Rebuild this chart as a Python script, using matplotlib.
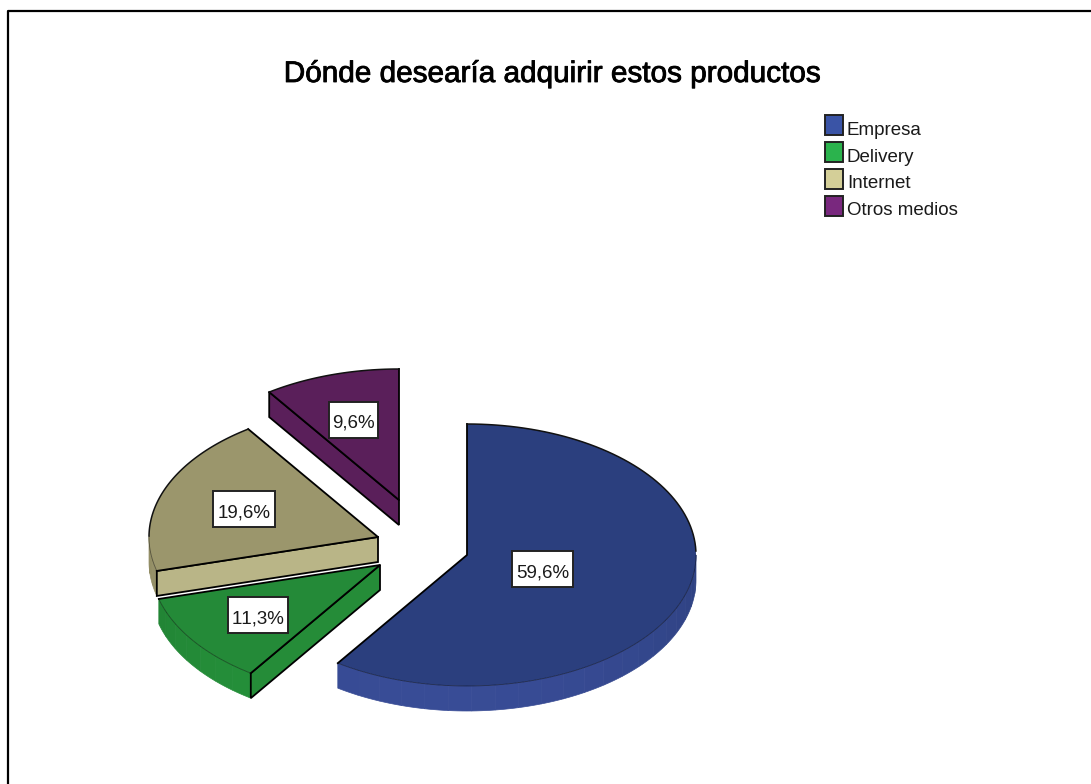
import numpy as np
import matplotlib
matplotlib.use("Agg")
import matplotlib.pyplot as plt
import matplotlib.patheffects as pe
from matplotlib.patches import Polygon, Rectangle

# Porcentajes de cada medio
categories = ["Empresa", "Delivery", "Internet", "Otros medios"]
percents = [59.6, 11.3, 19.6, 9.6]
percent_labels = ["59,6%", "11,3%", "19,6%", "9,6%"]

top_colors = ["#2b3f7e", "#248a38", "#9b966c", "#5a1f5a"]
cut_colors = ["#2b3f7e", "#258c38", "#b9b587", "#5a1f5a"]
rim_dark = ["#2f4283", "#1f7a31", "#8d8861", "#5a1f5a"]
rim_light = ["#384c96", "#25913a", "#a39e72", "#5a1f5a"]
legend_colors = ["#3a54a6", "#2bb34d", "#d4cf98", "#79287e"]

# Vertice de cada porcion en pixeles, radios de la elipse y grosor
apex_x = [467, 380, 378, 399]
apex_y = [555, 565, 537, 500]
rx, ry = 229, 131
depth = 25
label_pos = [(542.5, 569), (258, 615), (244, 509), (353.5, 419.5)]
label_w = [61, 60, 62, 49]
label_h = 36


def ell(cx, cy, ang):
    # angulo en grados, desde las 12 y en sentido horario
    t = np.radians(ang)
    return cx + rx * np.sin(t), cy - ry * np.cos(t)


plt.rcParams["text.kerning_factor"] = 6

fig = plt.figure(figsize=(10.91, 7.84), dpi=100)
ax = fig.add_axes([0, 0, 1, 1])
ax.set_xlim(0, 1091)
ax.set_ylim(784, 0)
ax.axis("off")

# Marco exterior: solo lados superior e izquierdo
ax.plot([8, 8, 1091], [784, 10.5, 10.5], color="black", lw=1.6)

ax.text(552.5, 82, "Dónde desearía adquirir estos productos", ha="center", va="baseline",
        fontsize=21.4, family="Liberation Sans", color="black",
        path_effects=[pe.withStroke(linewidth=0.6, foreground="black")])

# Porciones: primero las caras laterales y luego la cara superior
edges = np.cumsum([0] + percents) / sum(percents) * 360
for i in range(len(percents)):
    a0, a1 = edges[i], edges[i + 1]
    cx, cy = apex_x[i], apex_y[i]

    # Borde curvo visible, por bandas para simular el degradado
    r0, r1 = max(a0, 90), min(a1, 270)
    if r1 > r0:
        steps = np.linspace(r0, r1, int((r1 - r0) / 6) + 2)
        c_dark = np.array(matplotlib.colors.to_rgb(rim_dark[i]))
        c_light = np.array(matplotlib.colors.to_rgb(rim_light[i]))
        for s0, s1 in zip(steps[:-1], steps[1:]):
            aa = np.linspace(s0, s1, 6)
            xs, ys = ell(cx, cy, aa)
            pts = np.r_[np.c_[xs, ys], np.c_[xs[::-1], ys[::-1] + depth]]
            mix = max(0, np.cos(np.radians((s0 + s1) / 2 - 190)))
            col = c_dark + (c_light - c_dark) * mix
            ax.add_patch(Polygon(pts, closed=True, fc=col, ec=col, lw=0.5, zorder=2))

    # Cara del corte que mira hacia el frente
    if i > 0:
        ex, ey = ell(cx, cy, a0)
        pts = [(cx, cy), (ex, ey), (ex, ey + depth), (cx, cy + depth)]
        ax.add_patch(Polygon(pts, closed=True, fc=cut_colors[i], ec="black", lw=1.3, zorder=3))

    # Cara superior
    aa = np.linspace(a0, a1, 120)
    xs, ys = ell(cx, cy, aa)
    top = np.r_[[[cx, cy]], np.c_[xs, ys]]
    ax.add_patch(Polygon(top, closed=True, fc=top_colors[i], ec="none", zorder=4))

    # Contorno negro solo en rectas y tramo trasero del arco
    ax.plot([xs[0], cx, xs[-1]], [ys[0], cy, ys[-1]], color="black", lw=1.3, zorder=5)
    back = (aa <= 90) | (aa >= 270)
    if back.any():
        ax.plot(xs[back], ys[back], color="#111111", lw=1.1, zorder=5)
    front = ~back
    if front.any():
        ax.plot(xs[front], ys[front], color="black", lw=0.6, alpha=0.45, zorder=5)

    # Etiqueta en caja blanca
    lx, ly = label_pos[i]
    ax.add_patch(Rectangle((lx - label_w[i] / 2, ly - label_h / 2), label_w[i], label_h,
                           fc="white", ec="#222222", lw=1.4, zorder=6))
    ax.text(lx, ly + 8, percent_labels[i], ha="center", va="baseline",
            fontsize=13.5, family="Liberation Sans", color="#1a1a1a", zorder=7)

# Leyenda
legend_y = [124.5, 152, 179, 206]
legend_base = [135, 161.7, 187.5, 215]
for name, col, y, by in zip(categories, legend_colors, legend_y, legend_base):
    ax.add_patch(Rectangle((825, y - 10), 18, 20, fc=col, ec="#222222", lw=1.4, zorder=3))
    ax.text(847, by, name, ha="left", va="baseline", fontsize=13.5,
            family="Liberation Sans", color="#1a1a1a")

fig.savefig("out.png", dpi=100)
